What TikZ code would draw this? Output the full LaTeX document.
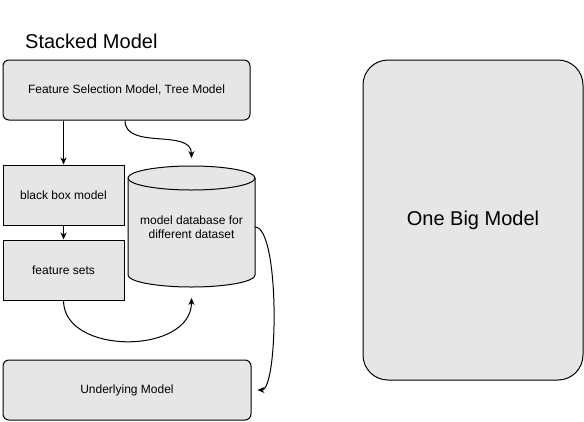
\documentclass[tikz,border=0pt]{standalone}
\usepackage{fontspec}
\setmainfont{Liberation Sans}
\usetikzlibrary{arrows.meta}
\definecolor{boxfill}{HTML}{E6E6E6}
\begin{document}
\begin{tikzpicture}[x=1pt,y=1pt,
  every node/.style={font=\fontsize{12}{14}\selectfont, text=black},
  roundbox/.style={draw=black, fill=boxfill, line width=1pt, rounded corners=6pt, inner sep=0pt},
  sqbox/.style={draw=black, fill=boxfill, line width=1pt, inner sep=0pt},
  conn/.style={line width=1pt, -{Stealth[length=7pt,width=6pt]}},
  bigtext/.style={font=\fontsize{20}{24}\selectfont}
]
\useasboundingbox (0,0) rectangle (584,-421);

% title
\node[bigtext, anchor=base west, inner sep=0pt] (title) at (25,-48) {Stacked Model};

% boxes
\node[roundbox, minimum width=247pt, minimum height=60pt] (top) at (126.5,-90) {Feature Selection Model, Tree Model};
\node[sqbox, minimum width=121pt, minimum height=60pt] (bbox) at (63.5,-195) {black box model};
\node[sqbox, minimum width=121pt, minimum height=60pt] (fsets) at (63.5,-270) {feature sets};
\node[roundbox, minimum width=248pt, minimum height=60pt] (under) at (127,-390) {Underlying Model};
\node[roundbox, rounded corners=25pt, minimum width=220pt, minimum height=320pt, bigtext] (big) at (473,-220) {One Big Model};

% cylinder
\path[draw=black, fill=boxfill, line width=1pt]
  (128,-178) -- (128,-275)
  arc[start angle=180, end angle=360, x radius=63.5pt, y radius=12pt]
  -- (255,-178)
  arc[start angle=0, end angle=180, x radius=63.5pt, y radius=12pt] -- cycle;
\draw[line width=1pt] (128,-178) arc[start angle=180, end angle=360, x radius=63.5pt, y radius=12pt];
\node[align=center, inner sep=0pt] (db) at (191.5,-227) {model database for\\different dataset};
\coordinate (dbtop) at (191.5,-158);
\coordinate (dbbot) at (191.5,-298);
\coordinate (dbright) at (255,-227);

% connectors
\draw[conn] (top.south -| bbox.north) -- (bbox.north);
\draw[conn] (bbox.south) -- (fsets.north);
\draw[conn] ([xshift=-1.5pt]top.south) .. controls +(0,-30) and (191.5,-128) .. (dbtop);
\draw[conn] (fsets.south) .. controls +(0,-55) and (191.5,-355) .. (dbbot);
\draw[conn] (dbright) .. controls +(25,0) and ([xshift=27pt]under.east) .. ([xshift=6pt]under.east);
\end{tikzpicture}
\end{document}
